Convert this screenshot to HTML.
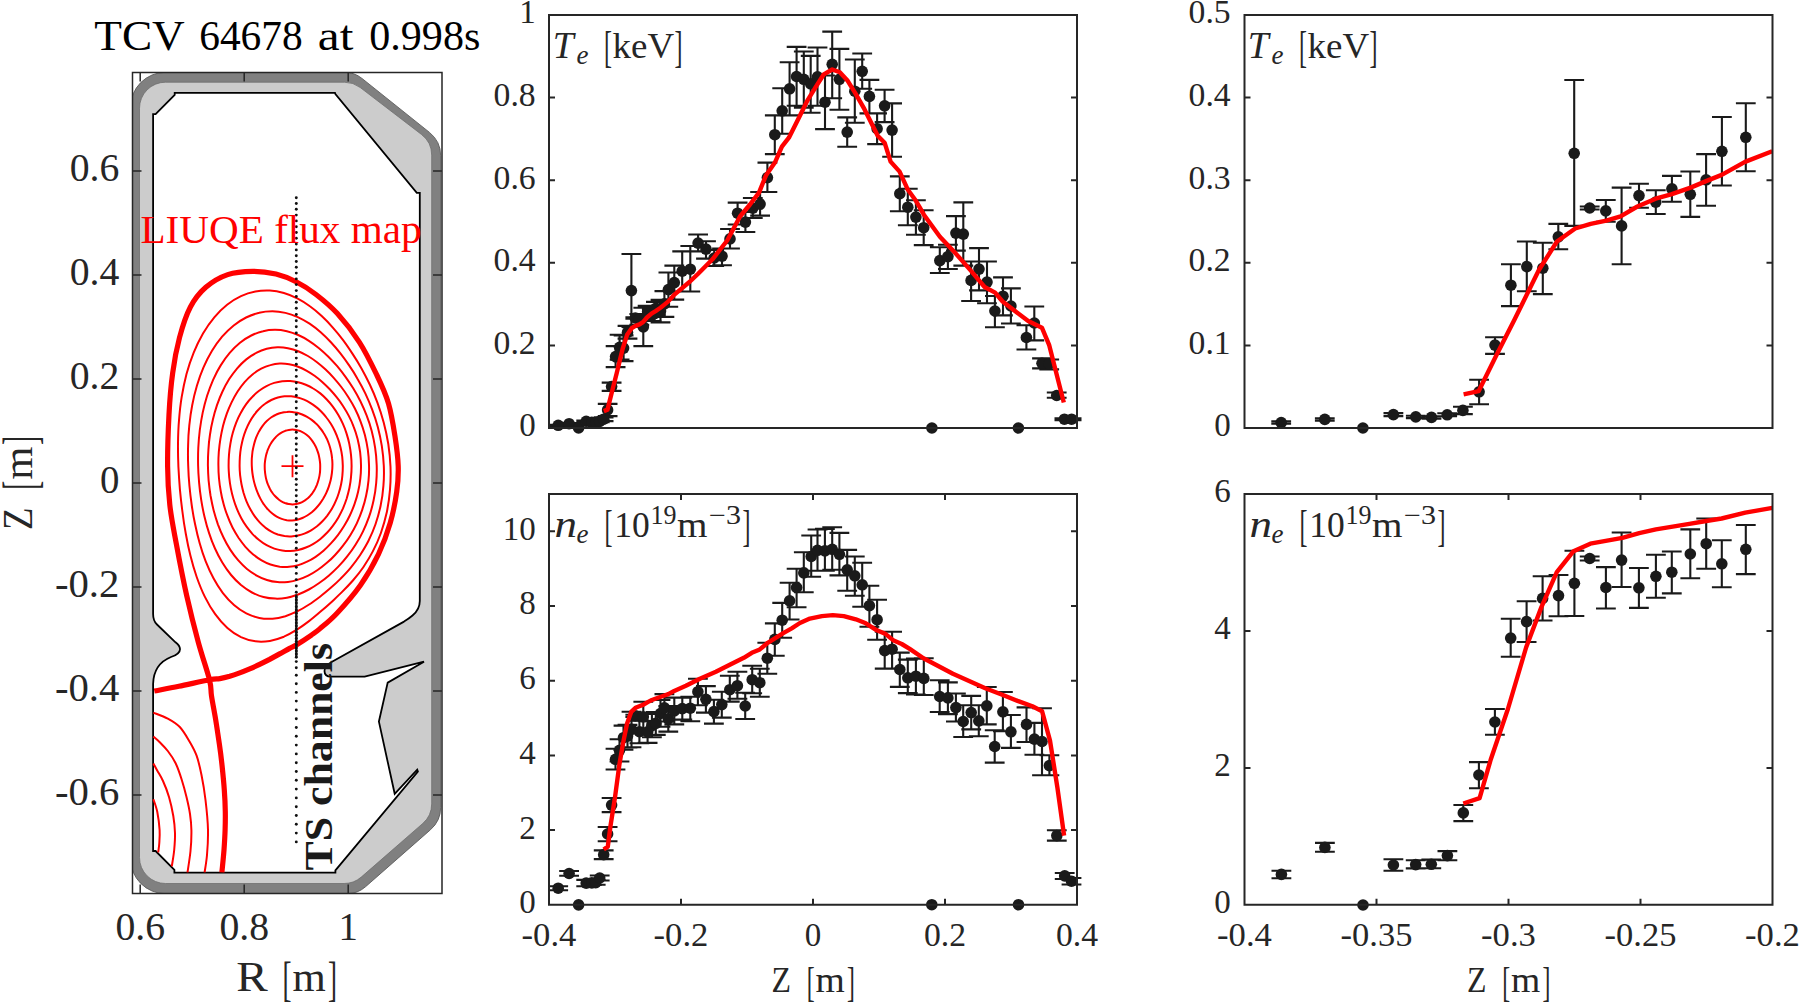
<!DOCTYPE html>
<html><head><meta charset="utf-8"><title>TCV 64678</title>
<style>
html,body{margin:0;padding:0;background:#fff;}
body{width:1800px;height:1003px;overflow:hidden;}
svg{display:block;}
text{font-family:"Liberation Serif","DejaVu Serif",serif;fill:#262626;}
</style></head><body>
<svg width="1800" height="1003" viewBox="0 0 1800 1003">
<rect x="0" y="0" width="1800" height="1003" fill="#ffffff"/>
<defs><clipPath id="cl"><rect x="132.5" y="72.5" width="309.5" height="821.0"/></clipPath></defs>
<g clip-path="url(#cl)">
<path d="M130.50 107.30A35.00 35.00 0 0 1 165.50 72.30L344.48 72.30A28.00 28.00 0 0 1 361.97 78.43L429.44 132.39A30.00 30.00 0 0 1 440.70 155.82L440.70 807.21A30.00 30.00 0 0 1 430.48 829.76L365.52 886.75A28.00 28.00 0 0 1 347.06 893.70L165.50 893.70A35.00 35.00 0 0 1 130.50 858.70Z" fill="#808080" stroke="#5a5a5a" stroke-width="0.9"/>
<path d="M139.50 108.20A26.00 26.00 0 0 1 165.50 82.20L344.48 82.20A26.00 26.00 0 0 1 360.30 87.57L421.52 134.49A26.00 26.00 0 0 1 431.70 155.13L431.70 803.87A26.00 26.00 0 0 1 422.78 823.47L361.24 877.10A26.00 26.00 0 0 1 344.16 883.50L165.50 883.50A26.00 26.00 0 0 1 139.50 857.50Z" fill="#cccccc" stroke="#6e6e6e" stroke-width="0.8"/>
<path d="M153.1 114.2 L155.6 114.2 L174.7 94.8 L174.7 92.9 L335 92.9 L335.4 94 L416.8 192.8 L419.8 192.8 L419.8 601 Q419.8 609.5 412.5 615.5 Q409 618.5 404 621.6 L332 661.8 Q324.5 666 324.5 671 Q324.5 676.7 331 676.7 L364.7 676.7 L424 661.7 L387.7 682.6 L378.9 721.6 L394.7 793.8 L417.2 769.6 L417.9 771.6 L335.4 870.3 L335.4 872.6 L174.4 872.6 L174.4 869.8 L155.6 851 L153.1 851 L153.1 684 Q153.6 664 171 657 Q180.2 654 180 649 Q179.8 645.5 175.5 642.3 L157 624.5 Q153.1 621 153.1 614 Z" fill="#ffffff" stroke="#000000" stroke-width="1.8" stroke-linejoin="miter"/>
<path d="M178.4 466.7C178.1 459.1 177.9 451.4 178.0 443.7C178.1 436.0 178.3 428.2 179.0 420.4C179.6 412.6 180.4 404.7 181.7 396.9C183.0 389.2 184.6 381.5 186.5 374.1C188.5 366.7 190.9 359.4 193.7 352.6C196.4 345.8 199.6 339.3 203.0 333.4C206.5 327.5 210.3 322.1 214.3 317.3C218.3 312.5 222.7 308.3 227.1 304.8C231.6 301.2 236.3 298.4 241.0 296.2C245.7 293.9 250.6 292.4 255.4 291.5C260.2 290.5 265.0 290.3 269.8 290.5C274.5 290.8 279.3 291.7 283.9 293.0C288.4 294.3 292.9 296.2 297.3 298.4C301.6 300.6 305.9 303.3 309.9 306.3C314.0 309.2 317.9 312.5 321.7 316.1C325.5 319.6 329.1 323.4 332.6 327.4C336.2 331.4 339.6 335.6 342.9 339.9C346.2 344.3 349.3 348.9 352.4 353.6C355.6 358.4 358.6 363.3 361.5 368.5C364.4 373.7 367.2 379.1 369.9 384.8C372.6 390.5 375.1 396.5 377.5 402.8C379.8 409.1 381.9 415.7 383.7 422.6C385.5 429.4 387.1 436.7 388.3 444.0C389.4 451.4 390.2 459.1 390.5 466.7C390.8 474.3 390.6 482.2 390.0 489.7C389.4 497.3 388.3 505.0 386.8 512.2C385.2 519.4 383.2 526.4 380.9 533.0C378.6 539.5 375.8 545.7 372.8 551.4C369.9 557.1 366.6 562.3 363.3 567.2C360.0 572.0 356.4 576.4 352.9 580.5C349.3 584.6 345.7 588.3 342.1 591.9C338.5 595.5 334.9 598.8 331.3 602.2C327.7 605.5 324.0 608.7 320.3 611.8C316.6 615.0 312.9 618.2 309.0 621.1C305.0 624.1 301.0 627.1 296.9 629.7C292.7 632.3 288.3 634.8 283.9 636.7C279.4 638.5 274.7 640.1 269.9 640.9C265.2 641.7 260.3 642.0 255.5 641.3C250.7 640.7 245.7 639.3 241.0 637.1C236.4 634.8 231.7 631.7 227.4 627.9C223.1 624.1 218.9 619.4 215.2 614.2C211.4 609.0 208.0 603.1 204.9 596.9C201.8 590.7 199.1 583.8 196.7 577.0C194.3 570.1 192.2 562.9 190.4 555.6C188.6 548.4 187.1 541.0 185.8 533.7C184.4 526.3 183.3 518.9 182.4 511.5C181.4 504.1 180.6 496.7 179.9 489.3C179.3 481.8 178.8 474.3 178.4 466.7Z" fill="none" stroke="#ff0000" stroke-width="2.0"/>
<path d="M188.2 465.7C187.9 459.1 187.9 452.4 188.1 445.6C188.2 438.9 188.6 432.1 189.3 425.4C190.0 418.7 190.9 411.9 192.2 405.3C193.4 398.7 195.0 392.1 196.9 385.7C198.8 379.4 201.0 373.2 203.5 367.4C206.0 361.6 208.9 356.0 212.0 350.8C215.1 345.7 218.5 341.0 222.1 336.7C225.8 332.5 229.7 328.7 233.7 325.5C237.7 322.3 241.9 319.6 246.1 317.5C250.4 315.4 254.8 313.8 259.2 312.8C263.5 311.7 268.0 311.3 272.4 311.3C276.7 311.3 281.1 311.9 285.4 312.9C289.6 313.8 293.8 315.3 297.8 317.1C301.9 319.0 305.8 321.2 309.6 323.7C313.4 326.3 317.1 329.1 320.7 332.2C324.2 335.3 327.6 338.7 330.9 342.2C334.2 345.7 337.3 349.4 340.4 353.3C343.5 357.2 346.4 361.3 349.3 365.6C352.2 369.8 355.0 374.2 357.6 378.9C360.3 383.5 362.9 388.3 365.3 393.4C367.7 398.5 370.0 403.8 372.1 409.4C374.2 415.0 376.2 420.9 377.8 426.9C379.4 433.0 380.8 439.4 381.8 445.8C382.8 452.3 383.5 459.0 383.8 465.7C384.1 472.4 384.0 479.3 383.4 485.9C382.9 492.6 382.0 499.3 380.6 505.7C379.3 512.0 377.5 518.3 375.5 524.2C373.5 530.0 371.0 535.6 368.5 540.8C365.9 546.0 362.9 550.8 360.0 555.3C357.0 559.8 353.8 563.9 350.6 567.8C347.4 571.7 344.0 575.2 340.7 578.6C337.3 582.0 333.9 585.1 330.5 588.1C327.0 591.1 323.6 594.0 320.0 596.7C316.4 599.4 312.8 602.1 309.1 604.5C305.4 606.9 301.5 609.3 297.6 611.2C293.6 613.1 289.5 614.9 285.4 616.2C281.2 617.4 276.8 618.4 272.5 618.7C268.1 618.9 263.7 618.8 259.3 617.9C254.9 617.0 250.5 615.5 246.3 613.4C242.1 611.2 237.9 608.4 234.0 605.0C230.1 601.6 226.3 597.5 222.9 593.1C219.5 588.6 216.3 583.6 213.5 578.3C210.6 573.0 208.0 567.2 205.7 561.4C203.4 555.5 201.4 549.3 199.7 543.2C197.9 537.0 196.4 530.6 195.1 524.3C193.7 517.9 192.6 511.4 191.7 505.0C190.8 498.5 190.0 492.0 189.4 485.5C188.8 478.9 188.4 472.3 188.2 465.7Z" fill="none" stroke="#ff0000" stroke-width="2.0"/>
<path d="M198.1 465.2C198.0 459.4 198.0 453.5 198.3 447.7C198.6 441.8 199.1 435.9 199.8 430.0C200.6 424.2 201.5 418.3 202.7 412.6C203.9 406.9 205.4 401.2 207.1 395.7C208.9 390.3 210.9 384.9 213.1 379.8C215.4 374.8 217.9 369.8 220.7 365.4C223.5 360.9 226.5 356.6 229.7 352.9C233.0 349.1 236.4 345.7 240.0 342.8C243.6 339.9 247.4 337.4 251.3 335.5C255.1 333.6 259.1 332.1 263.1 331.2C267.0 330.2 271.1 329.8 275.0 329.8C279.0 329.8 283.0 330.3 286.9 331.2C290.7 332.1 294.5 333.4 298.2 335.0C301.9 336.6 305.5 338.6 308.9 340.8C312.4 343.0 315.7 345.5 319.0 348.2C322.2 350.8 325.3 353.7 328.4 356.7C331.4 359.7 334.3 362.9 337.2 366.2C340.0 369.6 342.8 373.1 345.5 376.8C348.1 380.4 350.8 384.3 353.2 388.3C355.7 392.4 358.1 396.7 360.4 401.2C362.6 405.7 364.7 410.4 366.6 415.4C368.5 420.3 370.3 425.5 371.7 430.9C373.1 436.3 374.3 442.0 375.1 447.7C376.0 453.4 376.5 459.4 376.7 465.2C376.9 471.1 376.7 477.2 376.2 483.0C375.7 488.9 374.8 494.7 373.6 500.3C372.4 506.0 370.9 511.5 369.1 516.7C367.3 521.9 365.2 526.9 362.9 531.6C360.7 536.3 358.1 540.7 355.5 544.8C352.9 549.0 350.1 552.8 347.2 556.4C344.4 560.1 341.4 563.4 338.3 566.6C335.3 569.7 332.2 572.6 329.0 575.4C325.8 578.1 322.5 580.7 319.2 583.0C315.8 585.4 312.4 587.6 308.9 589.5C305.4 591.4 301.8 593.1 298.1 594.5C294.4 595.8 290.7 597.0 286.9 597.7C283.0 598.4 279.1 598.8 275.2 598.6C271.3 598.5 267.3 598.0 263.5 597.0C259.6 596.0 255.7 594.4 252.0 592.5C248.2 590.5 244.5 588.0 241.0 585.1C237.6 582.1 234.2 578.7 231.1 575.0C228.0 571.3 225.0 567.1 222.3 562.6C219.7 558.2 217.2 553.4 215.0 548.5C212.8 543.6 210.8 538.4 209.1 533.1C207.3 527.8 205.8 522.3 204.5 516.8C203.2 511.2 202.1 505.6 201.2 499.9C200.3 494.2 199.6 488.5 199.1 482.7C198.6 476.9 198.2 471.1 198.1 465.2Z" fill="none" stroke="#ff0000" stroke-width="2.0"/>
<path d="M207.9 465.1C207.9 460.0 208.0 454.9 208.4 449.8C208.7 444.7 209.2 439.5 210.0 434.5C210.7 429.5 211.7 424.5 212.9 419.6C214.0 414.7 215.4 409.8 217.0 405.1C218.6 400.5 220.4 395.9 222.5 391.5C224.5 387.2 226.8 383.0 229.2 379.1C231.7 375.2 234.4 371.6 237.2 368.3C240.1 365.0 243.1 362.0 246.3 359.4C249.4 356.9 252.8 354.6 256.2 352.9C259.6 351.1 263.1 349.7 266.7 348.8C270.2 347.9 273.8 347.4 277.4 347.3C280.9 347.2 284.5 347.5 287.9 348.2C291.4 348.9 294.9 349.9 298.2 351.2C301.5 352.5 304.8 354.2 307.9 356.0C311.1 357.9 314.1 360.0 317.0 362.2C320.0 364.5 322.9 367.0 325.6 369.5C328.4 372.1 331.1 374.9 333.7 377.8C336.3 380.7 338.9 383.8 341.3 387.0C343.8 390.2 346.1 393.6 348.4 397.2C350.7 400.8 352.9 404.5 354.9 408.5C356.9 412.5 358.8 416.7 360.4 421.1C362.1 425.5 363.6 430.2 364.9 434.9C366.1 439.7 367.1 444.7 367.8 449.7C368.5 454.7 368.9 459.9 369.0 465.1C369.2 470.3 369.0 475.5 368.5 480.6C368.0 485.7 367.2 490.9 366.1 495.8C365.1 500.7 363.7 505.5 362.1 510.1C360.6 514.7 358.7 519.1 356.8 523.3C354.8 527.5 352.6 531.4 350.3 535.2C348.0 538.9 345.6 542.4 343.0 545.7C340.5 549.1 337.8 552.1 335.1 555.0C332.4 558.0 329.5 560.7 326.6 563.1C323.7 565.6 320.7 568.0 317.6 570.0C314.6 572.1 311.4 574.0 308.2 575.6C304.9 577.2 301.6 578.6 298.2 579.6C294.9 580.7 291.4 581.5 287.9 581.9C284.5 582.3 280.9 582.4 277.4 582.1C273.9 581.8 270.4 581.1 266.9 580.0C263.5 578.9 260.0 577.5 256.7 575.6C253.4 573.8 250.1 571.5 247.0 569.0C243.9 566.4 240.9 563.4 238.1 560.2C235.3 557.0 232.7 553.4 230.2 549.6C227.8 545.8 225.5 541.8 223.5 537.5C221.4 533.3 219.6 528.8 217.9 524.3C216.3 519.7 214.9 515.0 213.6 510.2C212.4 505.4 211.4 500.4 210.5 495.5C209.7 490.5 209.1 485.4 208.6 480.4C208.2 475.3 208.0 470.2 207.9 465.1Z" fill="none" stroke="#ff0000" stroke-width="2.0"/>
<path d="M218.4 465.2C218.3 460.8 218.5 456.4 218.8 452.0C219.2 447.6 219.7 443.2 220.4 438.9C221.1 434.5 222.0 430.2 223.0 426.0C224.1 421.8 225.4 417.7 226.8 413.7C228.2 409.7 229.9 405.8 231.7 402.1C233.5 398.4 235.5 394.8 237.6 391.5C239.8 388.1 242.1 385.0 244.6 382.1C247.1 379.3 249.8 376.7 252.5 374.5C255.3 372.2 258.2 370.3 261.2 368.7C264.2 367.1 267.3 365.9 270.4 365.1C273.5 364.2 276.6 363.7 279.8 363.6C282.9 363.5 286.0 363.7 289.1 364.2C292.2 364.8 295.2 365.6 298.1 366.7C301.1 367.8 304.0 369.2 306.8 370.8C309.5 372.3 312.3 374.1 314.9 376.0C317.5 377.9 320.1 380.0 322.5 382.2C325.0 384.4 327.4 386.8 329.8 389.3C332.1 391.8 334.4 394.4 336.6 397.2C338.8 399.9 341.0 402.9 343.0 406.0C345.0 409.1 347.0 412.4 348.8 415.9C350.6 419.3 352.3 423.0 353.7 426.9C355.2 430.7 356.5 434.8 357.6 438.9C358.6 443.1 359.5 447.5 360.1 451.9C360.6 456.2 361.0 460.8 361.0 465.2C361.1 469.7 360.8 474.3 360.3 478.7C359.9 483.1 359.1 487.5 358.1 491.8C357.2 496.0 355.9 500.2 354.5 504.1C353.1 508.1 351.5 511.9 349.8 515.5C348.1 519.1 346.2 522.6 344.2 525.8C342.2 529.1 340.1 532.2 337.9 535.1C335.6 538.1 333.3 540.8 330.9 543.4C328.5 546.0 326.1 548.4 323.5 550.7C320.9 552.9 318.3 555.0 315.6 556.8C312.8 558.7 310.0 560.3 307.1 561.7C304.2 563.1 301.3 564.3 298.3 565.1C295.3 566.0 292.2 566.6 289.1 566.8C286.0 567.1 282.9 567.0 279.8 566.7C276.7 566.3 273.6 565.6 270.5 564.5C267.5 563.5 264.5 562.1 261.6 560.4C258.7 558.7 255.9 556.7 253.2 554.5C250.5 552.2 247.9 549.6 245.4 546.8C243.0 544.0 240.7 541.0 238.5 537.8C236.4 534.5 234.4 531.1 232.5 527.5C230.7 523.9 229.0 520.1 227.6 516.2C226.1 512.3 224.7 508.3 223.6 504.1C222.5 500.0 221.5 495.8 220.8 491.5C220.0 487.2 219.4 482.9 219.0 478.5C218.6 474.1 218.4 469.7 218.4 465.2Z" fill="none" stroke="#ff0000" stroke-width="2.0"/>
<path d="M228.6 466.0C228.6 462.2 228.7 458.4 229.0 454.7C229.3 451.0 229.7 447.3 230.4 443.6C231.0 440.0 231.8 436.3 232.8 432.8C233.8 429.3 234.9 425.9 236.2 422.6C237.5 419.3 239.0 416.0 240.7 413.0C242.3 410.0 244.1 407.1 246.0 404.4C247.9 401.7 250.0 399.2 252.2 397.0C254.4 394.7 256.7 392.6 259.1 390.8C261.4 389.0 263.9 387.4 266.5 386.1C269.0 384.8 271.6 383.7 274.2 382.9C276.8 382.1 279.5 381.5 282.2 381.2C284.9 380.9 287.5 380.8 290.2 381.0C292.9 381.2 295.5 381.6 298.1 382.2C300.7 382.8 303.3 383.7 305.8 384.7C308.4 385.8 310.8 387.0 313.2 388.5C315.6 389.9 318.0 391.6 320.3 393.4C322.5 395.2 324.7 397.3 326.8 399.5C328.9 401.7 330.9 404.0 332.8 406.6C334.7 409.1 336.5 411.8 338.2 414.7C339.9 417.5 341.4 420.5 342.8 423.7C344.2 426.8 345.5 430.1 346.5 433.4C347.6 436.8 348.6 440.3 349.3 443.9C350.0 447.5 350.6 451.1 351.0 454.8C351.4 458.5 351.6 462.2 351.6 466.0C351.6 469.7 351.4 473.4 351.0 477.1C350.7 480.8 350.1 484.5 349.4 488.0C348.6 491.6 347.7 495.1 346.7 498.5C345.6 501.9 344.3 505.2 343.0 508.4C341.6 511.5 340.0 514.6 338.4 517.4C336.7 520.3 334.9 523.0 333.0 525.6C331.1 528.2 329.1 530.6 327.0 532.8C324.9 535.0 322.7 537.0 320.4 538.9C318.2 540.7 315.8 542.4 313.4 543.8C310.9 545.3 308.4 546.5 305.9 547.5C303.4 548.6 300.8 549.4 298.1 550.0C295.5 550.5 292.9 550.9 290.2 551.0C287.5 551.1 284.9 550.9 282.2 550.5C279.6 550.1 276.9 549.5 274.3 548.6C271.7 547.7 269.1 546.6 266.6 545.2C264.1 543.8 261.7 542.2 259.4 540.3C257.0 538.5 254.8 536.4 252.6 534.1C250.5 531.8 248.5 529.3 246.6 526.7C244.7 524.0 242.9 521.2 241.3 518.2C239.7 515.2 238.2 512.0 236.9 508.8C235.6 505.6 234.4 502.2 233.4 498.7C232.4 495.3 231.5 491.7 230.8 488.1C230.1 484.5 229.6 480.8 229.2 477.1C228.9 473.4 228.6 469.7 228.6 466.0Z" fill="none" stroke="#ff0000" stroke-width="2.0"/>
<path d="M239.6 465.9C239.6 462.8 239.7 459.7 239.9 456.6C240.1 453.5 240.5 450.4 241.0 447.4C241.6 444.4 242.2 441.4 243.0 438.5C243.8 435.6 244.8 432.7 245.9 429.9C247.0 427.2 248.2 424.5 249.6 422.0C251.0 419.5 252.5 417.1 254.1 414.9C255.7 412.7 257.5 410.6 259.3 408.8C261.1 406.9 263.1 405.2 265.1 403.8C267.1 402.3 269.2 401.0 271.3 400.0C273.5 399.0 275.7 398.1 277.9 397.5C280.1 396.9 282.3 396.5 284.5 396.3C286.8 396.1 289.0 396.1 291.2 396.3C293.4 396.5 295.6 396.9 297.8 397.5C299.9 398.0 302.0 398.8 304.1 399.7C306.2 400.6 308.2 401.6 310.2 402.8C312.2 404.0 314.1 405.4 316.0 406.9C317.9 408.3 319.7 410.0 321.4 411.7C323.2 413.5 324.8 415.4 326.4 417.5C328.0 419.5 329.5 421.7 331.0 424.0C332.4 426.3 333.7 428.7 334.9 431.2C336.1 433.8 337.2 436.4 338.1 439.2C339.1 441.9 339.9 444.8 340.6 447.7C341.3 450.6 341.8 453.6 342.2 456.7C342.5 459.7 342.7 462.8 342.8 465.9C342.8 469.0 342.7 472.1 342.4 475.2C342.2 478.2 341.7 481.3 341.1 484.3C340.5 487.3 339.7 490.2 338.8 493.0C337.9 495.9 336.9 498.6 335.7 501.2C334.6 503.9 333.3 506.4 331.9 508.8C330.5 511.2 328.9 513.4 327.3 515.6C325.7 517.7 324.0 519.7 322.2 521.5C320.4 523.3 318.6 525.0 316.7 526.5C314.7 528.0 312.7 529.4 310.7 530.6C308.6 531.8 306.5 532.8 304.4 533.6C302.3 534.5 300.1 535.1 297.9 535.6C295.7 536.1 293.4 536.4 291.2 536.4C289.0 536.5 286.7 536.4 284.5 536.1C282.3 535.7 280.0 535.2 277.8 534.5C275.7 533.7 273.5 532.8 271.4 531.6C269.3 530.5 267.3 529.1 265.3 527.6C263.4 526.0 261.5 524.3 259.7 522.4C257.9 520.5 256.2 518.4 254.6 516.2C253.0 514.0 251.6 511.6 250.2 509.1C248.9 506.7 247.6 504.0 246.5 501.4C245.4 498.7 244.5 495.9 243.6 493.0C242.8 490.1 242.1 487.2 241.5 484.2C240.9 481.2 240.5 478.2 240.1 475.1C239.8 472.1 239.6 469.0 239.6 465.9Z" fill="none" stroke="#ff0000" stroke-width="2.0"/>
<path d="M251.8 465.9C251.7 463.5 251.7 461.1 251.8 458.7C252.0 456.3 252.2 453.9 252.5 451.5C252.9 449.1 253.4 446.7 254.0 444.4C254.6 442.1 255.3 439.9 256.1 437.7C257.0 435.5 258.0 433.4 259.0 431.4C260.1 429.4 261.3 427.6 262.6 425.8C263.9 424.1 265.3 422.5 266.8 421.1C268.3 419.7 269.8 418.4 271.4 417.3C273.0 416.2 274.7 415.2 276.4 414.5C278.1 413.7 279.9 413.1 281.6 412.7C283.3 412.2 285.1 412.0 286.9 411.9C288.6 411.7 290.4 411.8 292.1 411.9C293.8 412.1 295.6 412.4 297.2 412.8C298.9 413.3 300.6 413.8 302.2 414.5C303.9 415.2 305.5 415.9 307.1 416.8C308.6 417.7 310.2 418.7 311.7 419.9C313.1 421.0 314.6 422.2 316.0 423.6C317.4 424.9 318.7 426.4 320.0 428.0C321.3 429.5 322.5 431.2 323.6 433.0C324.8 434.8 325.8 436.7 326.8 438.7C327.7 440.7 328.5 442.8 329.3 445.0C330.0 447.1 330.6 449.4 331.1 451.7C331.6 454.0 331.9 456.4 332.1 458.7C332.4 461.1 332.5 463.5 332.4 465.9C332.4 468.3 332.2 470.7 331.9 473.0C331.6 475.4 331.2 477.7 330.7 480.0C330.2 482.2 329.5 484.4 328.8 486.6C328.1 488.7 327.2 490.8 326.3 492.8C325.4 494.7 324.4 496.6 323.3 498.5C322.2 500.3 321.1 502.0 319.9 503.6C318.6 505.3 317.3 506.8 316.0 508.2C314.6 509.7 313.2 511.0 311.8 512.2C310.3 513.4 308.8 514.5 307.2 515.5C305.6 516.5 304.0 517.3 302.4 518.0C300.7 518.7 299.0 519.3 297.3 519.7C295.6 520.1 293.8 520.4 292.1 520.4C290.4 520.5 288.6 520.4 286.8 520.2C285.1 519.9 283.4 519.5 281.7 518.9C280.0 518.3 278.3 517.5 276.7 516.6C275.0 515.6 273.5 514.5 272.0 513.3C270.5 512.1 269.0 510.7 267.7 509.2C266.3 507.7 265.0 506.1 263.8 504.3C262.6 502.6 261.5 500.8 260.5 498.9C259.5 497.0 258.5 495.0 257.7 492.9C256.8 490.9 256.0 488.7 255.4 486.6C254.7 484.4 254.1 482.2 253.6 479.9C253.1 477.6 252.7 475.3 252.4 473.0C252.1 470.7 251.9 468.3 251.8 465.9Z" fill="none" stroke="#ff0000" stroke-width="2.0"/>
<path d="M264.7 466.1C264.7 464.5 264.8 462.9 265.0 461.3C265.2 459.7 265.5 458.1 265.8 456.6C266.1 455.1 266.5 453.6 267.0 452.1C267.4 450.7 268.0 449.2 268.6 447.9C269.2 446.5 269.9 445.2 270.6 443.9C271.3 442.7 272.1 441.5 273.0 440.3C273.8 439.2 274.7 438.2 275.7 437.2C276.6 436.2 277.6 435.3 278.6 434.5C279.7 433.7 280.8 433.0 281.9 432.4C283.0 431.8 284.1 431.3 285.3 430.8C286.4 430.4 287.6 430.1 288.8 429.9C290.0 429.7 291.2 429.6 292.4 429.6C293.6 429.6 294.8 429.7 296.0 429.9C297.2 430.1 298.4 430.4 299.5 430.8C300.7 431.2 301.8 431.8 302.9 432.4C304.1 433.0 305.1 433.7 306.2 434.5C307.2 435.3 308.2 436.2 309.2 437.1C310.1 438.1 311.0 439.2 311.9 440.3C312.7 441.4 313.5 442.6 314.3 443.9C315.0 445.1 315.7 446.4 316.3 447.8C316.9 449.2 317.4 450.6 317.9 452.1C318.4 453.5 318.8 455.0 319.1 456.6C319.4 458.1 319.7 459.7 319.9 461.3C320.1 462.8 320.2 464.4 320.2 466.1C320.2 467.7 320.2 469.3 320.1 470.9C320.0 472.5 319.8 474.1 319.5 475.6C319.2 477.2 318.8 478.8 318.4 480.3C318.0 481.8 317.5 483.3 316.9 484.8C316.3 486.2 315.7 487.6 315.0 488.9C314.2 490.3 313.4 491.6 312.6 492.8C311.7 494.0 310.8 495.1 309.9 496.2C308.9 497.2 307.9 498.2 306.8 499.0C305.7 499.9 304.6 500.7 303.4 501.3C302.3 502.0 301.1 502.6 299.9 503.0C298.7 503.5 297.4 503.8 296.2 504.0C294.9 504.3 293.7 504.4 292.4 504.4C291.1 504.4 289.9 504.2 288.6 504.0C287.4 503.8 286.1 503.4 284.9 503.0C283.7 502.5 282.5 501.9 281.4 501.3C280.2 500.6 279.1 499.8 278.1 498.9C277.0 498.1 276.0 497.1 275.0 496.0C274.0 495.0 273.1 493.9 272.3 492.7C271.4 491.5 270.7 490.2 269.9 488.8C269.2 487.5 268.6 486.1 268.0 484.7C267.4 483.2 266.9 481.8 266.5 480.2C266.1 478.7 265.7 477.2 265.5 475.6C265.2 474.0 265.0 472.4 264.9 470.8C264.7 469.3 264.7 467.6 264.7 466.1Z" fill="none" stroke="#ff0000" stroke-width="2.0"/>
<path d="M154.3 691.0C158.4 690.2 169.7 688.2 178.9 686.3C188.1 684.4 202.7 681.1 209.5 679.8C216.3 678.5 216.4 679.2 219.8 678.6C223.2 678.0 226.4 677.2 229.7 676.3C233.0 675.3 236.4 674.1 239.7 672.9C243.0 671.7 246.4 670.3 249.7 668.9C253.0 667.5 256.3 666.0 259.6 664.4C262.9 662.8 266.3 661.1 269.6 659.4C272.9 657.6 276.3 655.7 279.6 653.9C282.9 652.1 286.8 649.9 289.6 648.4C292.4 646.9 292.7 647.2 296.3 645.0C299.9 642.8 307.2 638.0 311.1 635.3C315.0 632.6 315.4 632.6 319.7 628.9C324.0 625.2 330.2 620.5 337.0 613.2C343.8 605.9 353.5 595.1 360.4 585.2C367.3 575.4 373.5 564.5 378.5 554.1C383.5 543.7 387.2 533.4 390.2 523.0C393.2 512.6 395.4 501.4 396.7 491.9C398.0 482.4 398.5 475.2 398.2 466.0C397.9 456.8 396.6 446.8 395.0 436.4C393.4 426.0 391.5 413.7 388.5 403.5C385.5 393.3 381.7 385.2 376.8 375.0C371.9 364.8 365.9 352.3 359.3 342.1C352.7 331.9 344.6 321.5 337.4 313.6C330.2 305.7 322.9 299.8 316.0 294.5C309.1 289.2 302.8 285.2 296.1 281.8C289.4 278.4 283.2 275.9 276.0 274.1C268.8 272.4 261.1 271.2 253.0 271.3C244.9 271.4 235.6 271.9 227.7 274.6C219.8 277.3 212.0 281.9 205.8 287.3C199.6 292.7 194.8 298.6 190.4 307.0C186.0 315.4 182.4 326.7 179.5 337.7C176.6 348.7 174.4 360.0 172.7 372.8C170.9 385.6 169.8 399.0 169.0 414.5C168.2 430.0 167.5 450.9 167.6 466.0C167.7 481.1 168.4 491.9 169.8 504.8C171.2 517.8 173.5 528.6 176.3 543.7C179.1 558.8 183.0 579.2 186.7 595.6C190.4 612.0 194.5 628.2 198.3 642.2C202.1 656.2 207.3 670.8 209.5 679.8C211.7 688.8 210.5 689.2 211.5 695.9C212.5 702.6 214.4 711.8 215.7 719.8C217.0 727.8 218.2 736.2 219.3 743.7C220.4 751.2 221.2 757.3 222.0 765.0C222.8 772.7 223.8 782.2 224.3 790.0C224.9 797.8 225.2 805.3 225.3 812.0C225.4 818.7 225.3 823.7 225.1 830.0C224.9 836.3 224.5 842.9 224.0 850.0C223.5 857.1 222.2 868.7 221.9 872.4" fill="none" stroke="#ff0000" stroke-width="5.2" stroke-linejoin="round"/>
<path d="M153.4 712.6C155.8 713.6 163.4 716.2 167.8 718.6C172.2 721.0 176.2 723.2 179.8 727.0C183.4 730.8 186.6 736.5 189.4 741.3C192.2 746.1 194.6 750.1 196.6 755.7C198.6 761.3 200.0 767.6 201.5 775.0C203.0 782.4 204.4 790.8 205.5 800.0C206.6 809.2 207.8 820.8 208.0 830.0C208.2 839.2 207.6 847.9 207.0 855.0C206.4 862.1 205.0 869.5 204.6 872.4" fill="none" stroke="#ff0000" stroke-width="2.0"/>
<path d="M153.4 736.6C154.5 737.6 157.6 740.1 160.0 742.5C162.4 744.9 165.2 747.6 167.8 751.0C170.4 754.4 173.2 758.3 175.5 763.0C177.8 767.7 179.7 773.3 181.5 779.0C183.3 784.7 185.1 791.2 186.5 797.0C187.9 802.8 189.2 808.5 190.0 814.0C190.8 819.5 191.3 823.8 191.4 830.0C191.5 836.2 191.2 843.9 190.5 851.0C189.8 858.1 188.0 868.8 187.5 872.4" fill="none" stroke="#ff0000" stroke-width="2.0"/>
<path d="M153.4 763.5C154.0 764.7 155.6 767.6 157.2 770.5C158.8 773.4 161.0 776.6 163.0 781.0C165.0 785.4 167.3 791.2 169.0 797.0C170.7 802.8 172.3 810.0 173.3 816.0C174.3 822.0 174.8 827.3 175.0 833.0C175.2 838.7 174.7 844.5 174.2 850.0C173.7 855.5 172.2 863.6 171.8 866.3" fill="none" stroke="#ff0000" stroke-width="2.0"/>
<path d="M153.4 799.3C154.1 801.4 156.3 806.9 157.3 812.0C158.3 817.1 159.3 824.8 159.6 830.0C159.9 835.2 159.5 839.3 159.3 843.0C159.1 846.7 158.4 850.8 158.2 852.4" fill="none" stroke="#ff0000" stroke-width="2.0"/>
<path d="M281.5 466.2H303.5M292.5 455.2V477.2" stroke="#ff0000" stroke-width="1.8" fill="none"/>
</g>
<path d="M558.2 424.7V425.9M548.3 424.7H568.1M548.3 425.9H568.1M569.1 423.1V424.3M559.2 423.1H579.0M559.2 424.3H579.0M586.2 420.6V422.1M576.3 420.6H596.1M576.3 422.1H596.1M591.8 421.9V423.1M581.9 421.9H601.7M581.9 423.1H601.7M595.8 422.1V423.3M585.9 422.1H605.6M585.9 423.3H605.6M599.7 420.6V422.1M589.8 420.6H609.6M589.8 422.1H609.6M603.6 417.4V421.1M593.7 417.4H613.5M593.7 421.1H613.5M607.6 403.9V416.1M597.8 403.9H617.5M597.8 416.1H617.5M611.6 382.6V390.9M601.7 382.6H621.5M601.7 390.9H621.5M615.6 346.1V367.1M605.7 346.1H625.5M605.7 367.1H625.5M619.6 334.8V359.6M609.7 334.8H629.5M609.7 359.6H629.5M623.6 335.4V361.1M613.7 335.4H633.5M613.7 361.1H633.5M627.5 325.9V338.6M617.6 325.9H637.4M617.6 338.6H637.4M631.4 254.0V326.9M621.5 254.0H641.3M621.5 326.9H641.3M635.3 317.2V318.8M625.4 317.2H645.2M625.4 318.8H645.2M639.3 314.0V324.9M629.4 314.0H649.2M629.4 324.9H649.2M643.3 307.8V346.1M633.4 307.8H653.2M633.4 346.1H653.2M647.6 305.9V317.9M637.7 305.9H657.5M637.7 317.9H657.5M651.8 309.1V321.0M641.9 309.1H661.7M641.9 321.0H661.7M655.9 301.9V314.9M646.0 301.9H665.8M646.0 314.9H665.8M660.5 299.8V322.4M650.6 299.8H670.4M650.6 322.4H670.4M664.4 291.1V316.9M654.5 291.1H674.3M654.5 316.9H674.3M668.4 272.5V306.8M658.5 272.5H678.2M658.5 306.8H678.2M674.3 265.6V299.6M664.4 265.6H684.2M664.4 299.6H684.2M682.2 251.4V291.5M672.3 251.4H692.1M672.3 291.5H692.1M690.3 246.0V291.5M680.4 246.0H700.2M680.4 291.5H700.2M698.1 234.5V251.4M688.2 234.5H708.0M688.2 251.4H708.0M706.0 241.3V258.6M696.1 241.3H715.9M696.1 258.6H715.9M714.2 250.0V266.0M704.3 250.0H724.1M704.3 266.0H724.1M722.0 248.5V265.2M712.1 248.5H731.9M712.1 265.2H731.9M730.0 229.0V248.5M720.1 229.0H739.9M720.1 248.5H739.9M737.6 202.6V224.5M727.7 202.6H747.5M727.7 224.5H747.5M745.4 212.0V232.0M735.5 212.0H755.3M735.5 232.0H755.3M752.8 198.0V218.0M742.9 198.0H762.7M742.9 218.0H762.7M760.1 192.0V215.6M750.2 192.0H770.0M750.2 215.6H770.0M767.4 162.6V192.0M757.5 162.6H777.3M757.5 192.0H777.3M774.8 115.4V154.1M764.9 115.4H784.7M764.9 154.1H784.7M782.2 88.2V133.7M772.3 88.2H792.1M772.3 133.7H792.1M789.6 62.3V115.4M779.7 62.3H799.5M779.7 115.4H799.5M796.6 46.9V105.8M786.7 46.9H806.5M786.7 105.8H806.5M803.8 51.5V107.8M793.9 51.5H813.7M793.9 107.8H813.7M810.7 55.9V112.8M800.8 55.9H820.6M800.8 112.8H820.6M817.5 47.5V105.8M807.6 47.5H827.4M807.6 105.8H827.4M825.0 75.5V129.1M815.1 75.5H834.9M815.1 129.1H834.9M832.2 31.6V98.2M822.3 31.6H842.1M822.3 98.2H842.1M839.4 48.9V109.8M829.5 48.9H849.3M829.5 109.8H849.3M847.2 117.4V146.7M837.3 117.4H857.1M837.3 146.7H857.1M854.8 59.5V122.7M844.9 59.5H864.7M844.9 122.7H864.7M862.2 53.5V88.8M852.3 53.5H872.1M852.3 88.8H872.1M869.4 79.9V113.4M859.5 79.9H879.3M859.5 113.4H879.3M877.1 113.4V144.1M867.2 113.4H887.0M867.2 144.1H887.0M884.6 89.8V122.1M874.7 89.8H894.5M874.7 122.1H894.5M892.1 103.4V156.7M882.2 103.4H902.0M882.2 156.7H902.0M899.8 176.4V211.3M889.9 176.4H909.7M889.9 211.3H909.7M907.8 188.8V225.3M897.9 188.8H917.7M897.9 225.3H917.7M915.9 200.2V234.7M906.0 200.2H925.8M906.0 234.7H925.8M923.7 210.3V245.1M913.8 210.3H933.6M913.8 245.1H933.6M939.8 247.3V273.0M929.9 247.3H949.7M929.9 273.0H949.7M947.9 244.7V269.0M938.0 244.7H957.8M938.0 269.0H957.8M955.9 216.1V250.6M946.0 216.1H965.8M946.0 250.6H965.8M963.3 202.4V265.6M953.4 202.4H973.2M953.4 265.6H973.2M971.1 261.5V301.0M961.2 261.5H981.0M961.2 301.0H981.0M979.0 248.1V290.4M969.1 248.1H988.9M969.1 290.4H988.9M987.0 261.5V303.3M977.1 261.5H996.9M977.1 303.3H996.9M994.9 296.0V327.3M985.0 296.0H1004.8M985.0 327.3H1004.8M1003.0 277.4V315.4M993.1 277.4H1012.9M993.1 315.4H1012.9M1010.9 288.4V323.5M1001.0 288.4H1020.8M1001.0 323.5H1020.8M1026.4 325.2V349.5M1016.5 325.2H1036.3M1016.5 349.5H1036.3M1034.3 306.5V340.4M1024.4 306.5H1044.2M1024.4 340.4H1044.2M1042.0 358.4V368.4M1032.1 358.4H1051.9M1032.1 368.4H1051.9M1049.2 359.5V369.4M1039.3 359.5H1059.1M1039.3 369.4H1059.1M1056.7 392.5V397.8M1046.8 392.5H1066.6M1046.8 397.8H1066.6M1064.4 418.2V420.2M1054.5 418.2H1074.3M1054.5 420.2H1074.3M1071.6 418.2V420.2M1061.7 418.2H1081.5M1061.7 420.2H1081.5" stroke="#1a1a1a" stroke-width="2.1" fill="none"/>
<circle cx="558.2" cy="425.3" r="5.8" fill="#1a1a1a"/>
<circle cx="569.1" cy="423.7" r="5.8" fill="#1a1a1a"/>
<circle cx="578.6" cy="428.0" r="5.8" fill="#1a1a1a"/>
<circle cx="586.2" cy="421.3" r="5.8" fill="#1a1a1a"/>
<circle cx="591.8" cy="422.4" r="5.8" fill="#1a1a1a"/>
<circle cx="595.8" cy="422.7" r="5.8" fill="#1a1a1a"/>
<circle cx="599.7" cy="421.4" r="5.8" fill="#1a1a1a"/>
<circle cx="603.6" cy="419.2" r="5.8" fill="#1a1a1a"/>
<circle cx="607.6" cy="409.9" r="5.8" fill="#1a1a1a"/>
<circle cx="611.6" cy="386.6" r="5.8" fill="#1a1a1a"/>
<circle cx="615.6" cy="356.6" r="5.8" fill="#1a1a1a"/>
<circle cx="619.6" cy="347.3" r="5.8" fill="#1a1a1a"/>
<circle cx="623.6" cy="348.1" r="5.8" fill="#1a1a1a"/>
<circle cx="627.5" cy="332.4" r="5.8" fill="#1a1a1a"/>
<circle cx="631.4" cy="290.6" r="5.8" fill="#1a1a1a"/>
<circle cx="635.3" cy="318.0" r="5.8" fill="#1a1a1a"/>
<circle cx="639.3" cy="319.4" r="5.8" fill="#1a1a1a"/>
<circle cx="643.3" cy="326.9" r="5.8" fill="#1a1a1a"/>
<circle cx="647.6" cy="311.8" r="5.8" fill="#1a1a1a"/>
<circle cx="651.8" cy="315.1" r="5.8" fill="#1a1a1a"/>
<circle cx="655.9" cy="308.4" r="5.8" fill="#1a1a1a"/>
<circle cx="660.5" cy="311.1" r="5.8" fill="#1a1a1a"/>
<circle cx="664.4" cy="303.9" r="5.8" fill="#1a1a1a"/>
<circle cx="668.4" cy="289.6" r="5.8" fill="#1a1a1a"/>
<circle cx="674.3" cy="282.6" r="5.8" fill="#1a1a1a"/>
<circle cx="682.2" cy="271.2" r="5.8" fill="#1a1a1a"/>
<circle cx="690.3" cy="269.2" r="5.8" fill="#1a1a1a"/>
<circle cx="698.1" cy="243.1" r="5.8" fill="#1a1a1a"/>
<circle cx="706.0" cy="249.1" r="5.8" fill="#1a1a1a"/>
<circle cx="714.2" cy="258.0" r="5.8" fill="#1a1a1a"/>
<circle cx="722.0" cy="256.2" r="5.8" fill="#1a1a1a"/>
<circle cx="730.0" cy="238.9" r="5.8" fill="#1a1a1a"/>
<circle cx="737.6" cy="213.2" r="5.8" fill="#1a1a1a"/>
<circle cx="745.4" cy="222.1" r="5.8" fill="#1a1a1a"/>
<circle cx="752.8" cy="208.2" r="5.8" fill="#1a1a1a"/>
<circle cx="760.1" cy="204.1" r="5.8" fill="#1a1a1a"/>
<circle cx="767.4" cy="177.6" r="5.8" fill="#1a1a1a"/>
<circle cx="774.8" cy="134.7" r="5.8" fill="#1a1a1a"/>
<circle cx="782.2" cy="110.8" r="5.8" fill="#1a1a1a"/>
<circle cx="789.6" cy="88.8" r="5.8" fill="#1a1a1a"/>
<circle cx="796.6" cy="76.5" r="5.8" fill="#1a1a1a"/>
<circle cx="803.8" cy="79.3" r="5.8" fill="#1a1a1a"/>
<circle cx="810.7" cy="83.8" r="5.8" fill="#1a1a1a"/>
<circle cx="817.5" cy="76.9" r="5.8" fill="#1a1a1a"/>
<circle cx="825.0" cy="102.2" r="5.8" fill="#1a1a1a"/>
<circle cx="832.2" cy="64.3" r="5.8" fill="#1a1a1a"/>
<circle cx="839.4" cy="79.3" r="5.8" fill="#1a1a1a"/>
<circle cx="847.2" cy="132.1" r="5.8" fill="#1a1a1a"/>
<circle cx="854.8" cy="91.2" r="5.8" fill="#1a1a1a"/>
<circle cx="862.2" cy="71.3" r="5.8" fill="#1a1a1a"/>
<circle cx="869.4" cy="96.4" r="5.8" fill="#1a1a1a"/>
<circle cx="877.1" cy="128.7" r="5.8" fill="#1a1a1a"/>
<circle cx="884.6" cy="105.8" r="5.8" fill="#1a1a1a"/>
<circle cx="892.1" cy="130.1" r="5.8" fill="#1a1a1a"/>
<circle cx="899.8" cy="193.7" r="5.8" fill="#1a1a1a"/>
<circle cx="907.8" cy="207.2" r="5.8" fill="#1a1a1a"/>
<circle cx="915.9" cy="217.1" r="5.8" fill="#1a1a1a"/>
<circle cx="923.7" cy="227.7" r="5.8" fill="#1a1a1a"/>
<circle cx="931.9" cy="428.0" r="5.8" fill="#1a1a1a"/>
<circle cx="939.8" cy="260.6" r="5.8" fill="#1a1a1a"/>
<circle cx="947.9" cy="256.6" r="5.8" fill="#1a1a1a"/>
<circle cx="955.9" cy="233.1" r="5.8" fill="#1a1a1a"/>
<circle cx="963.3" cy="234.1" r="5.8" fill="#1a1a1a"/>
<circle cx="971.1" cy="280.4" r="5.8" fill="#1a1a1a"/>
<circle cx="979.0" cy="269.1" r="5.8" fill="#1a1a1a"/>
<circle cx="987.0" cy="282.1" r="5.8" fill="#1a1a1a"/>
<circle cx="994.9" cy="311.0" r="5.8" fill="#1a1a1a"/>
<circle cx="1003.0" cy="296.2" r="5.8" fill="#1a1a1a"/>
<circle cx="1010.9" cy="306.0" r="5.8" fill="#1a1a1a"/>
<circle cx="1018.4" cy="428.0" r="5.8" fill="#1a1a1a"/>
<circle cx="1026.4" cy="337.5" r="5.8" fill="#1a1a1a"/>
<circle cx="1034.3" cy="323.0" r="5.8" fill="#1a1a1a"/>
<circle cx="1042.0" cy="363.3" r="5.8" fill="#1a1a1a"/>
<circle cx="1049.2" cy="363.7" r="5.8" fill="#1a1a1a"/>
<circle cx="1056.7" cy="395.5" r="5.8" fill="#1a1a1a"/>
<circle cx="1064.4" cy="419.2" r="5.8" fill="#1a1a1a"/>
<circle cx="1071.6" cy="419.2" r="5.8" fill="#1a1a1a"/>
<path d="M603.8 411.1L607.5 409.6L611.9 392.0L616.5 374.0L622.6 349.0L627.1 334.8L631.7 328.2L635.5 325.9L639.5 324.4L643.0 322.1L647.2 317.2L651.8 313.4L655.6 311.1L660.5 307.8L664.4 304.6L668.3 301.4L674.1 294.9L690.0 281.5L697.9 274.0L712.5 259.3L727.2 240.5L740.0 216.5L750.0 204.5L759.0 192.6L765.9 175.6L774.9 162.6L781.9 146.7L788.9 137.7L797.9 119.8L807.8 99.8L815.8 86.8L823.8 74.3L832.2 69.5L839.8 72.3L847.7 80.8L855.7 93.8L863.7 107.8L871.7 123.7L877.7 135.7L884.6 142.7L890.6 161.6L899.6 171.6L907.9 189.8L915.9 200.8L923.9 214.7L939.9 236.7L955.8 253.6L970.8 270.6L984.6 287.0L995.1 292.6L1002.6 301.5L1016.9 312.5L1028.2 321.1L1041.9 327.7L1049.1 344.8L1063.8 402.5" stroke="#ff0000" stroke-width="4.4" fill="none" stroke-linejoin="round"/>
<path d="M549.0 15.0H1077.0V428.0H549.0ZM549.0 345.4h6.0M1077.0 345.4h-6.0M549.0 262.8h6.0M1077.0 262.8h-6.0M549.0 180.2h6.0M1077.0 180.2h-6.0M549.0 97.6h6.0M1077.0 97.6h-6.0" stroke="#262626" stroke-width="2" fill="none"/>
<path d="M558.2 886.3V890.3M548.3 886.3H568.1M548.3 890.3H568.1M569.1 871.0V875.8M559.2 871.0H579.0M559.2 875.8H579.0M586.2 879.9V886.3M576.3 879.9H596.1M576.3 886.3H596.1M591.8 880.5V884.9M581.9 880.5H601.7M581.9 884.9H601.7M595.7 880.1V884.8M585.8 880.1H605.6M585.8 884.8H605.6M599.7 875.5V880.5M589.8 875.5H609.6M589.8 880.5H609.6M603.7 850.4V859.1M593.8 850.4H613.6M593.8 859.1H613.6M607.6 827.0V841.3M597.7 827.0H617.5M597.7 841.3H617.5M611.6 798.0V812.1M601.7 798.0H621.5M601.7 812.1H621.5M615.5 748.8V769.5M605.6 748.8H625.4M605.6 769.5H625.4M619.5 739.2V761.5M609.6 739.2H629.4M609.6 761.5H629.4M623.5 725.6V749.7M613.6 725.6H633.4M613.6 749.7H633.4M627.5 724.9V747.4M617.6 724.9H637.4M617.6 747.4H637.4M631.5 711.7V747.3M621.6 711.7H641.4M621.6 747.3H641.4M635.3 714.8V717.0M625.4 714.8H645.2M625.4 717.0H645.2M639.4 720.6V743.2M629.5 720.6H649.2M629.5 743.2H649.2M643.3 701.7V731.5M633.4 701.7H653.2M633.4 731.5H653.2M647.6 721.1V742.9M637.7 721.1H657.5M637.7 742.9H657.5M651.9 713.9V737.3M642.0 713.9H661.8M642.0 737.3H661.8M655.8 712.1V734.9M645.9 712.1H665.7M645.9 734.9H665.7M660.5 700.0V726.7M650.6 700.0H670.4M650.6 726.7H670.4M664.4 694.1V721.5M654.5 694.1H674.3M654.5 721.5H674.3M668.3 706.0V731.6M658.4 706.0H678.2M658.4 731.6H678.2M674.3 697.6V724.4M664.4 697.6H684.2M664.4 724.4H684.2M682.3 697.7V719.6M672.4 697.7H692.2M672.4 719.6H692.2M690.3 696.7V721.2M680.4 696.7H700.2M680.4 721.2H700.2M697.9 678.7V705.2M688.0 678.7H707.8M688.0 705.2H707.8M705.9 686.1V712.6M696.0 686.1H715.8M696.0 712.6H715.8M713.9 699.7V723.6M704.0 699.7H723.8M704.0 723.6H723.8M721.8 691.7V717.6M711.9 691.7H731.7M711.9 717.6H731.7M729.8 675.7V701.6M719.9 675.7H739.7M719.9 701.6H739.7M737.4 671.7V698.7M727.5 671.7H747.3M727.5 698.7H747.3M745.2 692.7V719.0M735.3 692.7H755.1M735.3 719.0H755.1M752.2 665.7V693.3M742.3 665.7H762.1M742.3 693.3H762.1M759.8 668.7V696.7M749.9 668.7H769.7M749.9 696.7H769.7M767.3 642.8V673.7M757.4 642.8H777.2M757.4 673.7H777.2M774.8 623.4V655.8M764.9 623.4H784.7M764.9 655.8H784.7M782.2 602.9V637.8M772.3 602.9H792.1M772.3 637.8H792.1M789.6 582.8V619.5M779.7 582.8H799.5M779.7 619.5H799.5M796.6 568.7V607.2M786.7 568.7H806.5M786.7 607.2H806.5M803.8 552.3V592.2M793.9 552.3H813.7M793.9 592.2H813.7M811.2 535.5V576.8M801.3 535.5H821.1M801.3 576.8H821.1M817.5 529.5V570.8M807.6 529.5H827.4M807.6 570.8H827.4M824.9 528.9V570.8M815.0 528.9H834.8M815.0 570.8H834.8M832.2 527.3V569.8M822.3 527.3H842.1M822.3 569.8H842.1M839.4 532.9V575.4M829.5 532.9H849.3M829.5 575.4H849.3M847.2 549.9V590.8M837.3 549.9H857.1M837.3 590.8H857.1M854.8 556.5V595.8M844.9 556.5H864.7M844.9 595.8H864.7M862.2 562.8V606.7M852.3 562.8H872.1M852.3 606.7H872.1M869.4 585.8V626.7M859.5 585.8H879.3M859.5 626.7H879.3M877.1 599.8V639.7M867.2 599.8H887.0M867.2 639.7H887.0M884.7 631.7V668.6M874.8 631.7H894.6M874.8 668.6H894.6M892.1 631.7V668.6M882.2 631.7H902.0M882.2 668.6H902.0M899.8 652.6V686.9M889.9 652.6H909.7M889.9 686.9H909.7M907.8 659.6V693.1M897.9 659.6H917.7M897.9 693.1H917.7M915.9 658.6V694.5M906.0 658.6H925.8M906.0 694.5H925.8M923.8 658.2V695.0M913.9 658.2H933.7M913.9 695.0H933.7M939.7 680.3V712.0M929.8 680.3H949.6M929.8 712.0H949.6M947.9 682.4V714.1M938.0 682.4H957.8M938.0 714.1H957.8M955.9 693.5V721.5M946.0 693.5H965.8M946.0 721.5H965.8M963.2 705.3V737.0M953.3 705.3H973.1M953.3 737.0H973.1M971.2 695.9V729.4M961.3 695.9H981.1M961.3 729.4H981.1M978.8 705.3V736.2M968.9 705.3H988.7M968.9 736.2H988.7M986.8 687.0V724.4M976.9 687.0H996.7M976.9 724.4H996.7M994.7 730.3V762.6M984.8 730.3H1004.6M984.8 762.6H1004.6M1002.9 692.0V731.2M993.0 692.0H1012.8M993.0 731.2H1012.8M1010.9 715.0V747.9M1001.0 715.0H1020.8M1001.0 747.9H1020.8M1026.5 707.4V742.0M1016.6 707.4H1036.4M1016.6 742.0H1036.4M1034.4 722.9V754.7M1024.5 722.9H1044.3M1024.5 754.7H1044.3M1042.0 708.2V775.3M1032.1 708.2H1051.9M1032.1 775.3H1051.9M1049.4 755.3V775.3M1039.5 755.3H1059.3M1039.5 775.3H1059.3M1056.8 830.3V840.6M1046.9 830.3H1066.7M1046.9 840.6H1066.7M1064.7 873.0V879.0M1054.8 873.0H1074.6M1054.8 879.0H1074.6M1071.5 878.0V884.5M1061.6 878.0H1081.4M1061.6 884.5H1081.4" stroke="#1a1a1a" stroke-width="2.1" fill="none"/>
<circle cx="558.2" cy="888.2" r="5.8" fill="#1a1a1a"/>
<circle cx="569.1" cy="873.5" r="5.8" fill="#1a1a1a"/>
<circle cx="578.6" cy="904.9" r="5.8" fill="#1a1a1a"/>
<circle cx="586.2" cy="883.1" r="5.8" fill="#1a1a1a"/>
<circle cx="591.8" cy="882.9" r="5.8" fill="#1a1a1a"/>
<circle cx="595.7" cy="882.7" r="5.8" fill="#1a1a1a"/>
<circle cx="599.7" cy="878.0" r="5.8" fill="#1a1a1a"/>
<circle cx="603.7" cy="854.7" r="5.8" fill="#1a1a1a"/>
<circle cx="607.6" cy="834.0" r="5.8" fill="#1a1a1a"/>
<circle cx="611.6" cy="805.1" r="5.8" fill="#1a1a1a"/>
<circle cx="615.5" cy="759.3" r="5.8" fill="#1a1a1a"/>
<circle cx="619.5" cy="750.3" r="5.8" fill="#1a1a1a"/>
<circle cx="623.5" cy="737.7" r="5.8" fill="#1a1a1a"/>
<circle cx="627.5" cy="736.1" r="5.8" fill="#1a1a1a"/>
<circle cx="631.5" cy="729.4" r="5.8" fill="#1a1a1a"/>
<circle cx="635.3" cy="715.9" r="5.8" fill="#1a1a1a"/>
<circle cx="639.4" cy="731.7" r="5.8" fill="#1a1a1a"/>
<circle cx="643.3" cy="716.8" r="5.8" fill="#1a1a1a"/>
<circle cx="647.6" cy="731.9" r="5.8" fill="#1a1a1a"/>
<circle cx="651.9" cy="725.6" r="5.8" fill="#1a1a1a"/>
<circle cx="655.8" cy="723.4" r="5.8" fill="#1a1a1a"/>
<circle cx="660.5" cy="713.5" r="5.8" fill="#1a1a1a"/>
<circle cx="664.4" cy="707.8" r="5.8" fill="#1a1a1a"/>
<circle cx="668.3" cy="718.8" r="5.8" fill="#1a1a1a"/>
<circle cx="674.3" cy="710.9" r="5.8" fill="#1a1a1a"/>
<circle cx="682.3" cy="708.6" r="5.8" fill="#1a1a1a"/>
<circle cx="690.3" cy="708.2" r="5.8" fill="#1a1a1a"/>
<circle cx="697.9" cy="691.7" r="5.8" fill="#1a1a1a"/>
<circle cx="705.9" cy="699.3" r="5.8" fill="#1a1a1a"/>
<circle cx="713.9" cy="711.6" r="5.8" fill="#1a1a1a"/>
<circle cx="721.8" cy="704.6" r="5.8" fill="#1a1a1a"/>
<circle cx="729.8" cy="689.7" r="5.8" fill="#1a1a1a"/>
<circle cx="737.4" cy="685.7" r="5.8" fill="#1a1a1a"/>
<circle cx="745.2" cy="706.0" r="5.8" fill="#1a1a1a"/>
<circle cx="752.2" cy="679.7" r="5.8" fill="#1a1a1a"/>
<circle cx="759.8" cy="682.7" r="5.8" fill="#1a1a1a"/>
<circle cx="767.3" cy="658.2" r="5.8" fill="#1a1a1a"/>
<circle cx="774.8" cy="639.4" r="5.8" fill="#1a1a1a"/>
<circle cx="782.2" cy="620.2" r="5.8" fill="#1a1a1a"/>
<circle cx="789.6" cy="600.8" r="5.8" fill="#1a1a1a"/>
<circle cx="796.6" cy="587.5" r="5.8" fill="#1a1a1a"/>
<circle cx="803.8" cy="572.9" r="5.8" fill="#1a1a1a"/>
<circle cx="811.2" cy="556.5" r="5.8" fill="#1a1a1a"/>
<circle cx="817.5" cy="550.3" r="5.8" fill="#1a1a1a"/>
<circle cx="824.9" cy="550.9" r="5.8" fill="#1a1a1a"/>
<circle cx="832.2" cy="549.3" r="5.8" fill="#1a1a1a"/>
<circle cx="839.4" cy="554.3" r="5.8" fill="#1a1a1a"/>
<circle cx="847.2" cy="569.8" r="5.8" fill="#1a1a1a"/>
<circle cx="854.8" cy="575.8" r="5.8" fill="#1a1a1a"/>
<circle cx="862.2" cy="584.8" r="5.8" fill="#1a1a1a"/>
<circle cx="869.4" cy="605.7" r="5.8" fill="#1a1a1a"/>
<circle cx="877.1" cy="619.7" r="5.8" fill="#1a1a1a"/>
<circle cx="884.7" cy="650.6" r="5.8" fill="#1a1a1a"/>
<circle cx="892.1" cy="649.2" r="5.8" fill="#1a1a1a"/>
<circle cx="899.8" cy="669.5" r="5.8" fill="#1a1a1a"/>
<circle cx="907.8" cy="677.8" r="5.8" fill="#1a1a1a"/>
<circle cx="915.9" cy="676.2" r="5.8" fill="#1a1a1a"/>
<circle cx="923.8" cy="678.4" r="5.8" fill="#1a1a1a"/>
<circle cx="931.8" cy="904.7" r="5.8" fill="#1a1a1a"/>
<circle cx="939.7" cy="696.5" r="5.8" fill="#1a1a1a"/>
<circle cx="947.9" cy="697.9" r="5.8" fill="#1a1a1a"/>
<circle cx="955.9" cy="707.6" r="5.8" fill="#1a1a1a"/>
<circle cx="963.2" cy="721.5" r="5.8" fill="#1a1a1a"/>
<circle cx="971.2" cy="712.6" r="5.8" fill="#1a1a1a"/>
<circle cx="978.8" cy="720.9" r="5.8" fill="#1a1a1a"/>
<circle cx="986.8" cy="705.9" r="5.8" fill="#1a1a1a"/>
<circle cx="994.7" cy="746.5" r="5.8" fill="#1a1a1a"/>
<circle cx="1002.9" cy="711.8" r="5.8" fill="#1a1a1a"/>
<circle cx="1010.9" cy="731.8" r="5.8" fill="#1a1a1a"/>
<circle cx="1018.5" cy="904.7" r="5.8" fill="#1a1a1a"/>
<circle cx="1026.5" cy="724.4" r="5.8" fill="#1a1a1a"/>
<circle cx="1034.4" cy="739.1" r="5.8" fill="#1a1a1a"/>
<circle cx="1042.0" cy="741.5" r="5.8" fill="#1a1a1a"/>
<circle cx="1049.4" cy="765.6" r="5.8" fill="#1a1a1a"/>
<circle cx="1056.8" cy="835.6" r="5.8" fill="#1a1a1a"/>
<circle cx="1064.7" cy="875.9" r="5.8" fill="#1a1a1a"/>
<circle cx="1071.5" cy="881.2" r="5.8" fill="#1a1a1a"/>
<path d="M603.7 849.5L607.8 846.6L610.5 825.8L614.9 798.0L619.4 764.5L623.2 742.4L627.1 723.4L631.2 711.9L635.5 707.8L639.3 706.3L643.5 704.6L647.7 702.1L651.9 700.0L656.0 698.5L660.2 697.0L664.4 695.5L668.3 694.1L674.2 690.9L685.9 685.7L699.9 678.7L715.9 671.7L729.8 664.7L743.8 657.8L751.8 652.8L759.8 649.4L767.7 642.8L775.7 637.8L783.7 632.8L791.7 628.3L799.9 623.0L809.9 618.6L821.9 616.1L832.8 615.1L843.8 616.1L855.8 619.3L865.8 623.3L875.7 629.7L885.7 634.1L893.7 640.6L901.7 644.0L909.7 648.9L923.5 658.2L952.9 673.8L985.3 688.2L1002.9 695.0L1017.6 700.9L1032.4 706.2L1042.1 711.2L1050.0 740.6L1057.4 787.6L1064.1 835.6" stroke="#ff0000" stroke-width="4.4" fill="none" stroke-linejoin="round"/>
<path d="M549.0 494.0H1077.0V904.8H549.0ZM681.0 904.8v-6.0M681.0 494.0v6.0M813.0 904.8v-6.0M813.0 494.0v6.0M945.0 904.8v-6.0M945.0 494.0v6.0M549.0 830.1h6.0M1077.0 830.1h-6.0M549.0 755.4h6.0M1077.0 755.4h-6.0M549.0 680.7h6.0M1077.0 680.7h-6.0M549.0 606.0h6.0M1077.0 606.0h-6.0M549.0 531.3h6.0M1077.0 531.3h-6.0" stroke="#262626" stroke-width="2" fill="none"/>
<path d="M1281.2 421.4V423.8M1271.3 421.4H1291.1M1271.3 423.8H1291.1M1324.8 418.2V420.6M1314.9 418.2H1334.7M1314.9 420.6H1334.7M1393.4 413.1V416.1M1383.5 413.1H1403.3M1383.5 416.1H1403.3M1415.8 415.7V418.1M1405.9 415.7H1425.7M1405.9 418.1H1425.7M1431.5 416.2V418.6M1421.6 416.2H1441.4M1421.6 418.6H1441.4M1447.2 413.3V416.3M1437.3 413.3H1457.1M1437.3 416.3H1457.1M1462.9 406.7V414.1M1453.0 406.7H1472.8M1453.0 414.1H1472.8M1479.1 379.7V404.2M1469.2 379.7H1489.0M1469.2 404.2H1489.0M1495.0 337.2V353.9M1485.1 337.2H1504.9M1485.1 353.9H1504.9M1510.9 264.3V306.1M1501.0 264.3H1520.8M1501.0 306.1H1520.8M1526.8 241.5V291.3M1516.9 241.5H1536.7M1516.9 291.3H1536.7M1542.8 242.8V294.1M1532.9 242.8H1552.7M1532.9 294.1H1552.7M1558.3 223.9V249.3M1548.4 223.9H1568.2M1548.4 249.3H1568.2M1574.2 80.0V225.9M1564.3 80.0H1584.1M1564.3 225.9H1584.1M1589.7 206.5V209.5M1579.8 206.5H1599.6M1579.8 209.5H1599.6M1605.8 200.0V221.8M1595.9 200.0H1615.7M1595.9 221.8H1615.7M1621.6 187.6V264.3M1611.7 187.6H1631.5M1611.7 264.3H1631.5M1639.0 183.7V207.8M1629.1 183.7H1648.9M1629.1 207.8H1648.9M1655.8 190.2V214.0M1645.9 190.2H1665.7M1645.9 214.0H1665.7M1671.9 175.9V201.8M1662.0 175.9H1681.8M1662.0 201.8H1681.8M1690.3 171.5V216.9M1680.4 171.5H1700.2M1680.4 216.9H1700.2M1706.1 154.1V205.7M1696.2 154.1H1716.0M1696.2 205.7H1716.0M1721.9 117.0V185.5M1712.0 117.0H1731.8M1712.0 185.5H1731.8M1745.8 103.3V171.2M1735.9 103.3H1755.7M1735.9 171.2H1755.7" stroke="#1a1a1a" stroke-width="2.1" fill="none"/>
<circle cx="1281.2" cy="422.6" r="5.8" fill="#1a1a1a"/>
<circle cx="1324.8" cy="419.4" r="5.8" fill="#1a1a1a"/>
<circle cx="1362.9" cy="428.0" r="5.8" fill="#1a1a1a"/>
<circle cx="1393.4" cy="414.6" r="5.8" fill="#1a1a1a"/>
<circle cx="1415.8" cy="416.9" r="5.8" fill="#1a1a1a"/>
<circle cx="1431.5" cy="417.4" r="5.8" fill="#1a1a1a"/>
<circle cx="1447.2" cy="414.8" r="5.8" fill="#1a1a1a"/>
<circle cx="1462.9" cy="410.4" r="5.8" fill="#1a1a1a"/>
<circle cx="1479.1" cy="391.8" r="5.8" fill="#1a1a1a"/>
<circle cx="1495.0" cy="345.1" r="5.8" fill="#1a1a1a"/>
<circle cx="1510.9" cy="285.2" r="5.8" fill="#1a1a1a"/>
<circle cx="1526.8" cy="266.6" r="5.8" fill="#1a1a1a"/>
<circle cx="1542.8" cy="268.2" r="5.8" fill="#1a1a1a"/>
<circle cx="1558.3" cy="236.8" r="5.8" fill="#1a1a1a"/>
<circle cx="1574.2" cy="153.3" r="5.8" fill="#1a1a1a"/>
<circle cx="1589.7" cy="208.0" r="5.8" fill="#1a1a1a"/>
<circle cx="1605.8" cy="210.9" r="5.8" fill="#1a1a1a"/>
<circle cx="1621.6" cy="225.9" r="5.8" fill="#1a1a1a"/>
<circle cx="1639.0" cy="195.6" r="5.8" fill="#1a1a1a"/>
<circle cx="1655.8" cy="202.1" r="5.8" fill="#1a1a1a"/>
<circle cx="1671.9" cy="188.9" r="5.8" fill="#1a1a1a"/>
<circle cx="1690.3" cy="194.3" r="5.8" fill="#1a1a1a"/>
<circle cx="1706.1" cy="179.8" r="5.8" fill="#1a1a1a"/>
<circle cx="1721.9" cy="151.3" r="5.8" fill="#1a1a1a"/>
<circle cx="1745.8" cy="137.3" r="5.8" fill="#1a1a1a"/>
<path d="M1463.6 394.3L1478.6 391.2L1496.0 356.0L1514.3 320.0L1538.9 270.0L1557.0 241.5L1575.2 228.5L1590.7 223.9L1606.3 220.7L1620.6 216.3L1637.4 206.5L1655.6 198.7L1671.1 194.3L1690.6 187.6L1706.1 181.1L1721.7 174.9L1745.0 161.9L1772.2 151.3" stroke="#ff0000" stroke-width="4.4" fill="none" stroke-linejoin="round"/>
<path d="M1244.5 15.0H1772.5V428.0H1244.5ZM1244.5 345.4h6.0M1772.5 345.4h-6.0M1244.5 262.8h6.0M1772.5 262.8h-6.0M1244.5 180.2h6.0M1772.5 180.2h-6.0M1244.5 97.6h6.0M1772.5 97.6h-6.0" stroke="#262626" stroke-width="2" fill="none"/>
<path d="M1281.4 870.8V878.3M1271.5 870.8H1291.3M1271.5 878.3H1291.3M1324.9 842.9V851.7M1315.0 842.9H1334.8M1315.0 851.7H1334.8M1393.4 859.2V870.8M1383.5 859.2H1403.3M1383.5 870.8H1403.3M1415.7 860.3V868.4M1405.8 860.3H1425.6M1405.8 868.4H1425.6M1431.3 859.6V868.2M1421.4 859.6H1441.2M1421.4 868.2H1441.2M1447.4 851.1V860.3M1437.5 851.1H1457.3M1437.5 860.3H1457.3M1463.3 805.0V821.1M1453.4 805.0H1473.2M1453.4 821.1H1473.2M1478.9 762.1V788.3M1469.0 762.1H1488.8M1469.0 788.3H1488.8M1494.9 709.0V734.8M1485.0 709.0H1504.8M1485.0 734.8H1504.8M1510.7 618.8V656.8M1500.8 618.8H1520.6M1500.8 656.8H1520.6M1526.6 601.2V642.0M1516.7 601.2H1536.5M1516.7 642.0H1536.5M1542.6 576.3V620.5M1532.7 576.3H1552.5M1532.7 620.5H1552.5M1558.5 575.0V616.3M1548.6 575.0H1568.4M1548.6 616.3H1568.4M1574.4 550.7V616.0M1564.5 550.7H1584.3M1564.5 616.0H1584.3M1589.7 556.5V560.5M1579.8 556.5H1599.6M1579.8 560.5H1599.6M1605.9 567.1V608.5M1596.0 567.1H1615.8M1596.0 608.5H1615.8M1621.6 532.5V587.0M1611.7 532.5H1631.5M1611.7 587.0H1631.5M1638.9 568.0V607.9M1629.0 568.0H1648.8M1629.0 607.9H1648.8M1655.9 554.8V597.8M1646.0 554.8H1665.8M1646.0 597.8H1665.8M1671.8 551.5V593.4M1661.9 551.5H1681.7M1661.9 593.4H1681.7M1690.3 529.4V578.3M1680.4 529.4H1700.2M1680.4 578.3H1700.2M1706.2 518.5V568.8M1696.3 518.5H1716.1M1696.3 568.8H1716.1M1721.8 540.3V587.2M1711.9 540.3H1731.7M1711.9 587.2H1731.7M1745.8 525.0V574.1M1735.9 525.0H1755.7M1735.9 574.1H1755.7" stroke="#1a1a1a" stroke-width="2.1" fill="none"/>
<circle cx="1281.4" cy="874.4" r="5.8" fill="#1a1a1a"/>
<circle cx="1324.9" cy="847.4" r="5.8" fill="#1a1a1a"/>
<circle cx="1363.0" cy="905.0" r="5.8" fill="#1a1a1a"/>
<circle cx="1393.4" cy="865.0" r="5.8" fill="#1a1a1a"/>
<circle cx="1415.7" cy="864.6" r="5.8" fill="#1a1a1a"/>
<circle cx="1431.3" cy="864.3" r="5.8" fill="#1a1a1a"/>
<circle cx="1447.4" cy="855.6" r="5.8" fill="#1a1a1a"/>
<circle cx="1463.3" cy="812.9" r="5.8" fill="#1a1a1a"/>
<circle cx="1478.9" cy="775.0" r="5.8" fill="#1a1a1a"/>
<circle cx="1494.9" cy="722.0" r="5.8" fill="#1a1a1a"/>
<circle cx="1510.7" cy="638.1" r="5.8" fill="#1a1a1a"/>
<circle cx="1526.6" cy="621.6" r="5.8" fill="#1a1a1a"/>
<circle cx="1542.6" cy="598.4" r="5.8" fill="#1a1a1a"/>
<circle cx="1558.5" cy="595.6" r="5.8" fill="#1a1a1a"/>
<circle cx="1574.4" cy="583.3" r="5.8" fill="#1a1a1a"/>
<circle cx="1589.7" cy="558.5" r="5.8" fill="#1a1a1a"/>
<circle cx="1605.9" cy="587.5" r="5.8" fill="#1a1a1a"/>
<circle cx="1621.6" cy="560.1" r="5.8" fill="#1a1a1a"/>
<circle cx="1638.9" cy="587.8" r="5.8" fill="#1a1a1a"/>
<circle cx="1655.9" cy="576.3" r="5.8" fill="#1a1a1a"/>
<circle cx="1671.8" cy="572.2" r="5.8" fill="#1a1a1a"/>
<circle cx="1690.3" cy="554.0" r="5.8" fill="#1a1a1a"/>
<circle cx="1706.2" cy="543.7" r="5.8" fill="#1a1a1a"/>
<circle cx="1721.8" cy="563.8" r="5.8" fill="#1a1a1a"/>
<circle cx="1745.8" cy="549.3" r="5.8" fill="#1a1a1a"/>
<path d="M1463.3 803.5L1479.6 798.1L1490.6 760.0L1507.9 709.0L1526.1 647.5L1541.4 607.1L1556.8 572.2L1573.5 551.2L1590.3 543.7L1605.7 540.9L1622.4 537.8L1639.2 533.1L1655.9 529.4L1672.7 526.6L1689.4 523.8L1706.2 521.0L1721.6 518.5L1745.3 512.7L1772.4 507.9" stroke="#ff0000" stroke-width="4.4" fill="none" stroke-linejoin="round"/>
<path d="M1244.5 494.0H1772.5V904.8H1244.5ZM1376.5 904.8v-6.0M1376.5 494.0v6.0M1508.5 904.8v-6.0M1508.5 494.0v6.0M1640.5 904.8v-6.0M1640.5 494.0v6.0M1244.5 767.9h6.0M1772.5 767.9h-6.0M1244.5 630.9h6.0M1772.5 630.9h-6.0" stroke="#262626" stroke-width="2" fill="none"/>
<path d="M296.3 594.5V657.5" stroke="#1a1a1a" stroke-width="2.3"/>
<g fill="#101010"><circle cx="296.3" cy="683.8" r="1.45"/><circle cx="296.3" cy="675.2" r="1.45"/><circle cx="296.3" cy="667.7" r="1.45"/><circle cx="296.3" cy="661.6" r="1.45"/><circle cx="296.3" cy="657.2" r="1.45"/><circle cx="296.3" cy="654.1" r="1.45"/><circle cx="296.3" cy="651.0" r="1.45"/><circle cx="296.3" cy="647.9" r="1.45"/><circle cx="296.3" cy="644.7" r="1.45"/><circle cx="296.3" cy="641.6" r="1.45"/><circle cx="296.3" cy="638.5" r="1.45"/><circle cx="296.3" cy="635.3" r="1.45"/><circle cx="296.3" cy="632.2" r="1.45"/><circle cx="296.3" cy="629.1" r="1.45"/><circle cx="296.3" cy="626.0" r="1.45"/><circle cx="296.3" cy="622.9" r="1.45"/><circle cx="296.3" cy="619.8" r="1.45"/><circle cx="296.3" cy="616.7" r="1.45"/><circle cx="296.3" cy="613.2" r="1.45"/><circle cx="296.3" cy="609.9" r="1.45"/><circle cx="296.3" cy="606.7" r="1.45"/><circle cx="296.3" cy="603.1" r="1.45"/><circle cx="296.3" cy="600.0" r="1.45"/><circle cx="296.3" cy="596.9" r="1.45"/><circle cx="296.3" cy="592.2" r="1.45"/><circle cx="296.3" cy="586.0" r="1.45"/><circle cx="296.3" cy="579.6" r="1.45"/><circle cx="296.3" cy="573.4" r="1.45"/><circle cx="296.3" cy="567.2" r="1.45"/><circle cx="296.3" cy="560.7" r="1.45"/><circle cx="296.3" cy="554.6" r="1.45"/><circle cx="296.3" cy="548.3" r="1.45"/><circle cx="296.3" cy="542.3" r="1.45"/><circle cx="296.3" cy="536.1" r="1.45"/><circle cx="296.3" cy="530.3" r="1.45"/><circle cx="296.3" cy="524.5" r="1.45"/><circle cx="296.3" cy="518.8" r="1.45"/><circle cx="296.3" cy="512.9" r="1.45"/><circle cx="296.3" cy="507.1" r="1.45"/><circle cx="296.3" cy="501.3" r="1.45"/><circle cx="296.3" cy="495.7" r="1.45"/><circle cx="296.3" cy="490.1" r="1.45"/><circle cx="296.3" cy="484.6" r="1.45"/><circle cx="296.3" cy="479.3" r="1.45"/><circle cx="296.3" cy="473.3" r="1.45"/><circle cx="296.3" cy="467.7" r="1.45"/><circle cx="296.3" cy="462.0" r="1.45"/><circle cx="296.3" cy="455.8" r="1.45"/><circle cx="296.3" cy="449.8" r="1.45"/><circle cx="296.3" cy="444.0" r="1.45"/><circle cx="296.3" cy="438.3" r="1.45"/><circle cx="296.3" cy="432.3" r="1.45"/><circle cx="296.3" cy="426.3" r="1.45"/><circle cx="296.3" cy="420.4" r="1.45"/><circle cx="296.3" cy="414.4" r="1.45"/><circle cx="296.3" cy="408.1" r="1.45"/><circle cx="296.3" cy="401.7" r="1.45"/><circle cx="296.3" cy="395.5" r="1.45"/><circle cx="296.3" cy="389.0" r="1.45"/><circle cx="296.3" cy="382.8" r="1.45"/><circle cx="296.3" cy="376.4" r="1.45"/><circle cx="296.3" cy="370.1" r="1.45"/><circle cx="296.3" cy="364.3" r="1.45"/><circle cx="296.3" cy="358.1" r="1.45"/><circle cx="296.3" cy="351.9" r="1.45"/><circle cx="296.3" cy="345.6" r="1.45"/><circle cx="296.3" cy="339.4" r="1.45"/><circle cx="296.3" cy="333.0" r="1.45"/><circle cx="296.3" cy="326.7" r="1.45"/><circle cx="296.3" cy="320.8" r="1.45"/><circle cx="296.3" cy="314.5" r="1.45"/><circle cx="296.3" cy="308.3" r="1.45"/><circle cx="296.3" cy="302.2" r="1.45"/><circle cx="296.3" cy="296.5" r="1.45"/><circle cx="296.3" cy="290.6" r="1.45"/><circle cx="296.3" cy="284.6" r="1.45"/><circle cx="296.3" cy="278.9" r="1.45"/><circle cx="296.3" cy="273.1" r="1.45"/><circle cx="296.3" cy="267.3" r="1.45"/><circle cx="296.3" cy="261.5" r="1.45"/><circle cx="296.3" cy="255.7" r="1.45"/><circle cx="296.3" cy="249.9" r="1.45"/><circle cx="296.3" cy="244.1" r="1.45"/><circle cx="296.3" cy="238.3" r="1.45"/><circle cx="296.3" cy="232.5" r="1.45"/><circle cx="296.3" cy="226.7" r="1.45"/><circle cx="296.3" cy="220.9" r="1.45"/><circle cx="296.3" cy="215.1" r="1.45"/><circle cx="296.3" cy="209.3" r="1.45"/><circle cx="296.3" cy="203.5" r="1.45"/><circle cx="296.3" cy="197.7" r="1.45"/><circle cx="296.3" cy="692.4" r="1.45"/><circle cx="296.3" cy="701.1" r="1.45"/><circle cx="296.3" cy="709.9" r="1.45"/><circle cx="296.3" cy="718.7" r="1.45"/><circle cx="296.3" cy="727.5" r="1.45"/><circle cx="296.3" cy="736.3" r="1.45"/><circle cx="296.3" cy="745.1" r="1.45"/><circle cx="296.3" cy="753.9" r="1.45"/><circle cx="296.3" cy="762.7" r="1.45"/><circle cx="296.3" cy="771.5" r="1.45"/><circle cx="296.3" cy="780.3" r="1.45"/><circle cx="296.3" cy="789.1" r="1.45"/><circle cx="296.3" cy="797.9" r="1.45"/><circle cx="296.3" cy="806.7" r="1.45"/><circle cx="296.3" cy="815.5" r="1.45"/><circle cx="296.3" cy="824.3" r="1.45"/><circle cx="296.3" cy="833.1" r="1.45"/><circle cx="296.3" cy="841.9" r="1.45"/></g>
<path d="M132.5 72.5H442.0V893.5H132.5ZM140.2 893.5v-9M140.2 72.5v9M244.2 893.5v-9M244.2 72.5v9M348.2 893.5v-9M348.2 72.5v9M132.5 795.0h9M442.0 795.0h-9M132.5 691.0h9M442.0 691.0h-9M132.5 587.0h9M442.0 587.0h-9M132.5 483.0h9M442.0 483.0h-9M132.5 379.0h9M442.0 379.0h-9M132.5 275.0h9M442.0 275.0h-9M132.5 171.0h9M442.0 171.0h-9" stroke="#262626" stroke-width="1.5" fill="none"/>
<text x="94.3" y="49.7" font-size="41.5" style="fill:#000" textLength="90.5" lengthAdjust="spacingAndGlyphs">TCV</text>
<text x="199.2" y="49.7" font-size="41.5" style="fill:#000" textLength="103.5" lengthAdjust="spacingAndGlyphs">64678</text>
<text x="317.8" y="49.7" font-size="41.5" style="fill:#000" textLength="35.5" lengthAdjust="spacingAndGlyphs">at</text>
<text x="369.3" y="49.7" font-size="41.5" style="fill:#000" textLength="111.0" lengthAdjust="spacingAndGlyphs">0.998s</text>
<text x="119.3" y="181.0" font-size="39.5" text-anchor="end" textLength="49.6" lengthAdjust="spacingAndGlyphs">0.6</text>
<text x="119.3" y="285.0" font-size="39.5" text-anchor="end" textLength="49.6" lengthAdjust="spacingAndGlyphs">0.4</text>
<text x="119.3" y="389.0" font-size="39.5" text-anchor="end" textLength="49.6" lengthAdjust="spacingAndGlyphs">0.2</text>
<text x="119.3" y="493.0" font-size="39.5" text-anchor="end" textLength="19.4" lengthAdjust="spacingAndGlyphs">0</text>
<text x="119.3" y="597.0" font-size="39.5" text-anchor="end" textLength="64.4" lengthAdjust="spacingAndGlyphs">-0.2</text>
<text x="119.3" y="701.0" font-size="39.5" text-anchor="end" textLength="64.4" lengthAdjust="spacingAndGlyphs">-0.4</text>
<text x="119.3" y="805.0" font-size="39.5" text-anchor="end" textLength="64.4" lengthAdjust="spacingAndGlyphs">-0.6</text>
<text x="140.2" y="939.7" font-size="39.5" text-anchor="middle" textLength="49.6" lengthAdjust="spacingAndGlyphs">0.6</text>
<text x="244.2" y="939.7" font-size="39.5" text-anchor="middle" textLength="49.6" lengthAdjust="spacingAndGlyphs">0.8</text>
<text x="348.2" y="939.7" font-size="39.5" text-anchor="middle" textLength="19.4" lengthAdjust="spacingAndGlyphs">1</text>
<text x="236.3" y="991.2" font-size="41.5" textLength="31.5" lengthAdjust="spacingAndGlyphs">R</text>
<text x="282.6" y="995.1" font-size="48.8" textLength="9.0" lengthAdjust="spacingAndGlyphs">[</text>
<text x="292.6" y="991.2" font-size="41.5" textLength="33.3" lengthAdjust="spacingAndGlyphs">m</text>
<text x="328.1" y="995.1" font-size="48.8" textLength="9.0" lengthAdjust="spacingAndGlyphs">]</text>
<text transform="translate(31.9 530) rotate(-90)" font-size="41.5" textLength="22.5" lengthAdjust="spacingAndGlyphs">Z</text>
<text transform="translate(35.6 489.8) rotate(-90)" font-size="48.8" textLength="9.0" lengthAdjust="spacingAndGlyphs">[</text>
<text transform="translate(31.9 479.7) rotate(-90)" font-size="41.5" textLength="33.3" lengthAdjust="spacingAndGlyphs">m</text>
<text transform="translate(35.6 444.9) rotate(-90)" font-size="48.8" textLength="9.0" lengthAdjust="spacingAndGlyphs">]</text>
<text x="140.5" y="242.7" font-size="39.5" style="fill:#ff0000" textLength="281.0" lengthAdjust="spacingAndGlyphs">LIUQE flux map</text>
<text transform="translate(331.6 870.5) rotate(-90)" font-size="39.5" font-weight="bold" style="fill:#1a1a1a" textLength="227.5" lengthAdjust="spacingAndGlyphs">TS channels</text>
<text x="535.7" y="436.3" font-size="33.5" text-anchor="end" textLength="16.5" lengthAdjust="spacingAndGlyphs">0</text>
<text x="535.7" y="353.7" font-size="33.5" text-anchor="end" textLength="42.1" lengthAdjust="spacingAndGlyphs">0.2</text>
<text x="535.7" y="271.1" font-size="33.5" text-anchor="end" textLength="42.1" lengthAdjust="spacingAndGlyphs">0.4</text>
<text x="535.7" y="188.5" font-size="33.5" text-anchor="end" textLength="42.1" lengthAdjust="spacingAndGlyphs">0.6</text>
<text x="535.7" y="105.9" font-size="33.5" text-anchor="end" textLength="42.1" lengthAdjust="spacingAndGlyphs">0.8</text>
<text x="535.7" y="23.3" font-size="33.5" text-anchor="end" textLength="16.5" lengthAdjust="spacingAndGlyphs">1</text>
<text x="535.7" y="913.2" font-size="33.5" text-anchor="end" textLength="16.5" lengthAdjust="spacingAndGlyphs">0</text>
<text x="535.7" y="838.5" font-size="33.5" text-anchor="end" textLength="16.5" lengthAdjust="spacingAndGlyphs">2</text>
<text x="535.7" y="763.8" font-size="33.5" text-anchor="end" textLength="16.5" lengthAdjust="spacingAndGlyphs">4</text>
<text x="535.7" y="689.1" font-size="33.5" text-anchor="end" textLength="16.5" lengthAdjust="spacingAndGlyphs">6</text>
<text x="535.7" y="614.4" font-size="33.5" text-anchor="end" textLength="16.5" lengthAdjust="spacingAndGlyphs">8</text>
<text x="535.7" y="539.8" font-size="33.5" text-anchor="end" textLength="33.0" lengthAdjust="spacingAndGlyphs">10</text>
<text x="1230.7" y="436.3" font-size="33.5" text-anchor="end" textLength="16.5" lengthAdjust="spacingAndGlyphs">0</text>
<text x="1230.7" y="353.7" font-size="33.5" text-anchor="end" textLength="42.1" lengthAdjust="spacingAndGlyphs">0.1</text>
<text x="1230.7" y="271.1" font-size="33.5" text-anchor="end" textLength="42.1" lengthAdjust="spacingAndGlyphs">0.2</text>
<text x="1230.7" y="188.5" font-size="33.5" text-anchor="end" textLength="42.1" lengthAdjust="spacingAndGlyphs">0.3</text>
<text x="1230.7" y="105.9" font-size="33.5" text-anchor="end" textLength="42.1" lengthAdjust="spacingAndGlyphs">0.4</text>
<text x="1230.7" y="23.3" font-size="33.5" text-anchor="end" textLength="42.1" lengthAdjust="spacingAndGlyphs">0.5</text>
<text x="1230.7" y="913.2" font-size="33.5" text-anchor="end" textLength="16.5" lengthAdjust="spacingAndGlyphs">0</text>
<text x="1230.7" y="776.3" font-size="33.5" text-anchor="end" textLength="16.5" lengthAdjust="spacingAndGlyphs">2</text>
<text x="1230.7" y="639.3" font-size="33.5" text-anchor="end" textLength="16.5" lengthAdjust="spacingAndGlyphs">4</text>
<text x="1230.7" y="502.4" font-size="33.5" text-anchor="end" textLength="16.5" lengthAdjust="spacingAndGlyphs">6</text>
<text x="549.0" y="946.2" font-size="33.5" text-anchor="middle" textLength="54.8" lengthAdjust="spacingAndGlyphs">-0.4</text>
<text x="681.0" y="946.2" font-size="33.5" text-anchor="middle" textLength="54.8" lengthAdjust="spacingAndGlyphs">-0.2</text>
<text x="813.0" y="946.2" font-size="33.5" text-anchor="middle" textLength="16.5" lengthAdjust="spacingAndGlyphs">0</text>
<text x="945.0" y="946.2" font-size="33.5" text-anchor="middle" textLength="42.1" lengthAdjust="spacingAndGlyphs">0.2</text>
<text x="1077.0" y="946.2" font-size="33.5" text-anchor="middle" textLength="42.1" lengthAdjust="spacingAndGlyphs">0.4</text>
<text x="1244.5" y="946.2" font-size="33.5" text-anchor="middle" textLength="54.8" lengthAdjust="spacingAndGlyphs">-0.4</text>
<text x="1376.5" y="946.2" font-size="33.5" text-anchor="middle" textLength="71.8" lengthAdjust="spacingAndGlyphs">-0.35</text>
<text x="1508.5" y="946.2" font-size="33.5" text-anchor="middle" textLength="54.8" lengthAdjust="spacingAndGlyphs">-0.3</text>
<text x="1640.5" y="946.2" font-size="33.5" text-anchor="middle" textLength="71.8" lengthAdjust="spacingAndGlyphs">-0.25</text>
<text x="1772.5" y="946.2" font-size="33.5" text-anchor="middle" textLength="54.8" lengthAdjust="spacingAndGlyphs">-0.2</text>
<text x="771.5" y="992.2" font-size="36.0" textLength="19.5" lengthAdjust="spacingAndGlyphs">Z</text>
<text x="806.8" y="995.6" font-size="42.8" textLength="7.9" lengthAdjust="spacingAndGlyphs">[</text>
<text x="815.5" y="992.2" font-size="36.5" textLength="29.3" lengthAdjust="spacingAndGlyphs">m</text>
<text x="847.1" y="995.6" font-size="42.8" textLength="7.9" lengthAdjust="spacingAndGlyphs">]</text>
<text x="1467.0" y="992.2" font-size="36.0" textLength="19.5" lengthAdjust="spacingAndGlyphs">Z</text>
<text x="1502.3" y="995.6" font-size="42.8" textLength="7.9" lengthAdjust="spacingAndGlyphs">[</text>
<text x="1511.0" y="992.2" font-size="36.5" textLength="29.3" lengthAdjust="spacingAndGlyphs">m</text>
<text x="1542.6" y="995.6" font-size="42.8" textLength="7.9" lengthAdjust="spacingAndGlyphs">]</text>
<text x="552.8" y="58.2" font-size="37.5" font-style="italic">T</text>
<text x="576.5" y="64" font-size="27" font-style="italic">e</text>
<text x="604.1" y="61.7" font-size="43.4" textLength="8.0" lengthAdjust="spacingAndGlyphs">[</text>
<text x="612.6" y="58.2" font-size="36.5" textLength="61.5" lengthAdjust="spacingAndGlyphs">keV</text>
<text x="674.5" y="61.7" font-size="43.4" textLength="8.0" lengthAdjust="spacingAndGlyphs">]</text>
<text x="1247.8" y="58.2" font-size="37.5" font-style="italic">T</text>
<text x="1271.5" y="64" font-size="27" font-style="italic">e</text>
<text x="1299.1" y="61.7" font-size="43.4" textLength="8.0" lengthAdjust="spacingAndGlyphs">[</text>
<text x="1307.6" y="58.2" font-size="36.5" textLength="61.5" lengthAdjust="spacingAndGlyphs">keV</text>
<text x="1369.5" y="61.7" font-size="43.4" textLength="8.0" lengthAdjust="spacingAndGlyphs">]</text>
<text x="554.6" y="537.2" font-size="37.5" font-style="italic" textLength="22.5" lengthAdjust="spacingAndGlyphs">n</text>
<text x="576.5" y="542.8" font-size="27" font-style="italic">e</text>
<text x="604.5" y="540.7" font-size="43.4" textLength="8.0" lengthAdjust="spacingAndGlyphs">[</text>
<text x="614.3" y="537.2" font-size="36.5" textLength="35.5" lengthAdjust="spacingAndGlyphs">10</text>
<text x="650.5" y="523.6" font-size="26.5" textLength="26.0" lengthAdjust="spacingAndGlyphs">19</text>
<text x="677.0" y="537.2" font-size="36.5" textLength="30.5" lengthAdjust="spacingAndGlyphs">m</text>
<text x="709.0" y="524.0" font-size="26.5" textLength="32.0" lengthAdjust="spacingAndGlyphs">−3</text>
<text x="742.5" y="540.7" font-size="43.4" textLength="8.0" lengthAdjust="spacingAndGlyphs">]</text>
<text x="1249.6" y="537.2" font-size="37.5" font-style="italic" textLength="22.5" lengthAdjust="spacingAndGlyphs">n</text>
<text x="1271.5" y="542.8" font-size="27" font-style="italic">e</text>
<text x="1299.5" y="540.7" font-size="43.4" textLength="8.0" lengthAdjust="spacingAndGlyphs">[</text>
<text x="1309.3" y="537.2" font-size="36.5" textLength="35.5" lengthAdjust="spacingAndGlyphs">10</text>
<text x="1345.5" y="523.6" font-size="26.5" textLength="26.0" lengthAdjust="spacingAndGlyphs">19</text>
<text x="1372.0" y="537.2" font-size="36.5" textLength="30.5" lengthAdjust="spacingAndGlyphs">m</text>
<text x="1404.0" y="524.0" font-size="26.5" textLength="32.0" lengthAdjust="spacingAndGlyphs">−3</text>
<text x="1437.5" y="540.7" font-size="43.4" textLength="8.0" lengthAdjust="spacingAndGlyphs">]</text>
</svg>
</body></html>
